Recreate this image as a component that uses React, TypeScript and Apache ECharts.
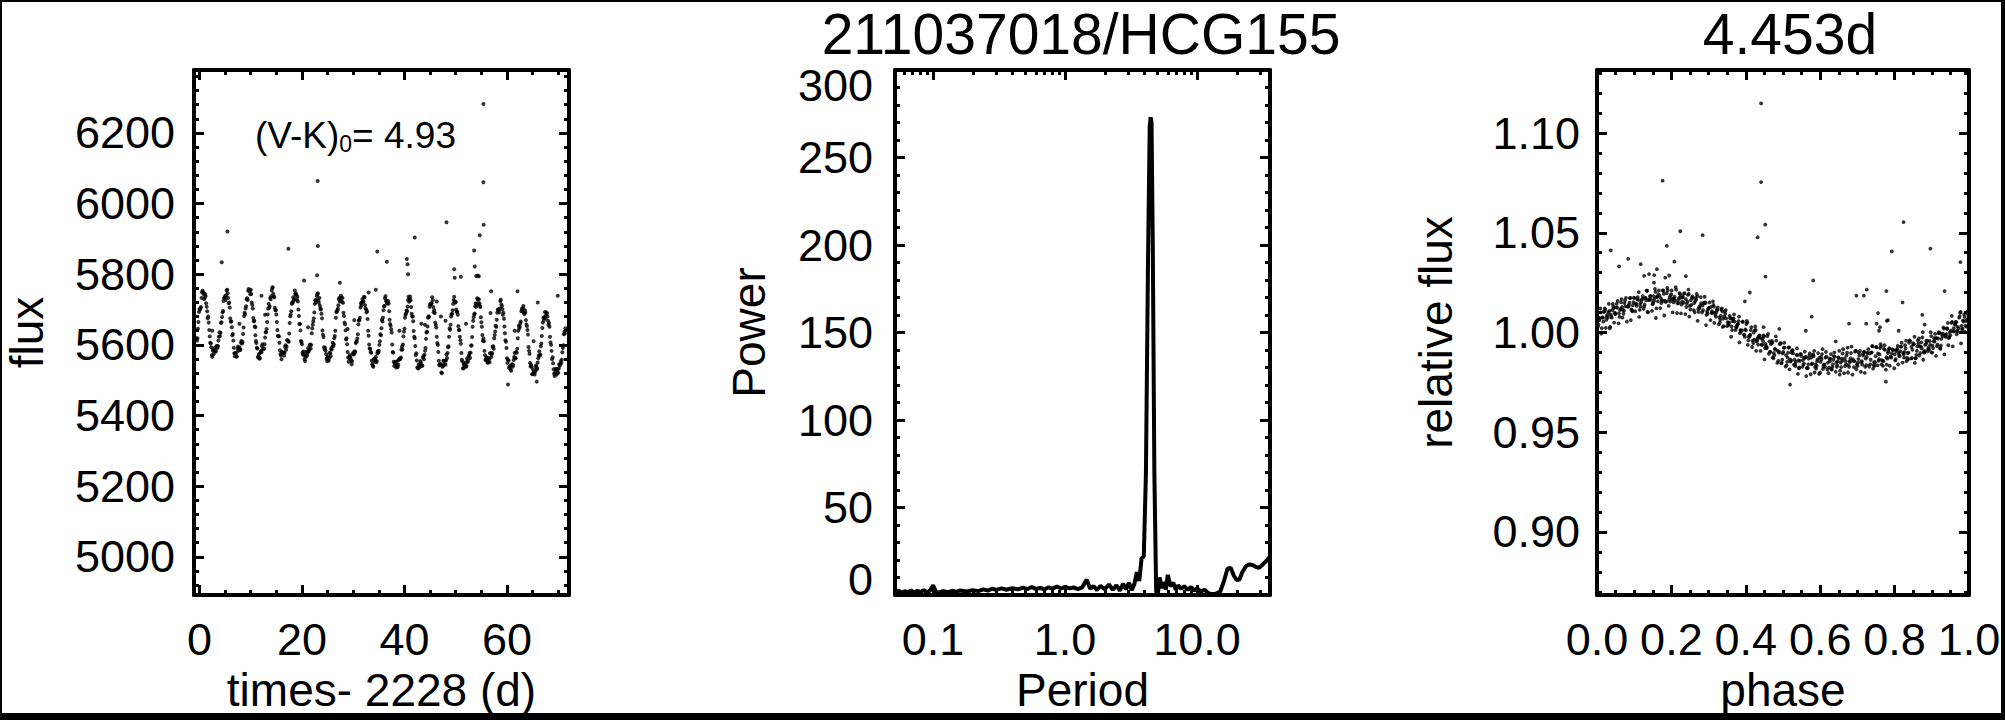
import React, { useEffect, useRef } from 'react';
import * as echarts from 'echarts';

// ---------- Panel 1: light curve (time - 2228 d, flux) ----------
const TIME = [
  -0.6, -0.4, -0.2,
  0, 0.2, 0.4, 0.6, 0.8, 1, 1.2, 1.4, 1.6, 1.8, 2, 2.2, 2.4, 2.6, 2.8, 3, 3.2, 3.4, 3.6, 3.8, 4, 4.2, 4.4,
  4.6, 4.8, 5, 5.2, 5.4, 5.6, 5.8, 6, 6.2, 6.4, 6.6, 6.8, 7, 7.2, 7.4, 7.6, 7.8, 8, 8.2, 8.4, 8.6, 8.8,
  9, 9.2, 9.4, 9.6, 9.8, 10, 10.2, 10.4, 10.6, 10.8, 11, 11.2, 11.4, 11.6, 11.8, 12, 12.2, 12.4, 12.6, 12.8, 13, 13.2,
  13.4, 13.6, 13.8, 14, 14.2, 14.4, 14.6, 14.8, 15, 15.2, 15.4, 15.6, 15.8, 16, 16.2, 16.4, 16.6, 16.8, 17, 17.2, 17.4, 17.6, 17.8,
  18, 18.2, 18.4, 18.6, 18.8, 19, 19.2, 19.4, 19.6, 19.8, 20, 20.2, 20.4, 20.6, 20.8, 21, 21.2, 21.4, 21.6, 21.8, 22, 22.2,
  22.4, 22.6, 22.8, 23, 23.2, 23.4, 23.6, 23.8, 24, 24.2, 24.4, 24.6, 24.8, 25, 25.2, 25.4, 25.6, 25.8, 26, 26.2, 26.4, 26.6,
  26.8, 27, 27.2, 27.4, 27.6, 27.8, 28, 28.2, 28.4, 28.6, 28.8, 29, 29.2, 29.4, 29.6, 29.8, 30, 30.2, 30.4, 30.6, 30.8, 31,
  31.2, 31.4, 31.6, 31.8, 32, 32.2, 32.4, 32.6, 32.8, 33, 33.2, 33.4, 33.6, 33.8, 34, 34.2, 34.4, 34.6, 34.8, 35, 35.2, 35.4, 35.6,
  35.8, 36, 36.2, 36.4, 36.6, 36.8, 37, 37.2, 37.4, 37.6, 37.8, 38, 38.2, 38.4, 38.6, 38.8, 39, 39.2, 39.4, 39.6, 39.8, 40,
  40.2, 40.4, 40.6, 40.8, 41, 41.2, 41.4, 41.6, 41.8, 42, 42.2, 42.4, 42.6, 42.8, 43, 43.2, 43.4, 43.6, 43.8, 44, 44.2, 44.4,
  44.6, 44.8, 45, 45.2, 45.4, 45.6, 45.8, 46, 46.2, 46.4, 46.6, 46.8, 47, 47.2, 47.4, 47.6, 47.8, 48, 48.2, 48.4, 48.6, 48.8,
  49, 49.2, 49.4, 49.6, 49.8, 50, 50.2, 50.4, 50.6, 50.8, 51, 51.2, 51.4, 51.6, 51.8, 52, 52.2, 52.4, 52.6, 52.8, 53, 53.2, 53.4,
  53.6, 53.8, 54, 54.2, 54.4, 54.6, 54.8, 55, 55.2, 55.4, 55.6, 55.8, 56, 56.2, 56.4, 56.6, 56.8, 57, 57.2, 57.4, 57.6, 57.8,
  58, 58.2, 58.4, 58.6, 58.8, 59, 59.2, 59.4, 59.6, 59.8, 60, 60.2, 60.4, 60.6, 60.8, 61, 61.2, 61.4, 61.6, 61.8, 62, 62.2,
  62.4, 62.6, 62.8, 63, 63.2, 63.4, 63.6, 63.8, 64, 64.2, 64.4, 64.6, 64.8, 65, 65.2, 65.4, 65.6, 65.8, 66, 66.2, 66.4, 66.6,
  66.8, 67, 67.2, 67.4, 67.6, 67.8, 68, 68.2, 68.4, 68.6, 68.8, 69, 69.2, 69.4, 69.6, 69.8, 70, 70.2, 70.4, 70.6, 70.8, 71, 71.2,
  71.4,
];

const FLUX = [
  5618, 5619, 5665,
  5701, 5704, 5733, 5753, 5744, 5733, 5738, 5708, 5675, 5663, 5624, 5604, 5571, 5583, 5574, 5592, 5581, 5596, 5597, 5623, 5625, 5662, 5679,
  5696, 5733, 5738, 5740, 5756, 5733, 5720, 5675, 5666, 5627, 5612, 5576, 5576, 5567, 5588, 5583, 5593, 5586, 5611, 5608, 5649, 5691,
  5703, 5729, 5727, 5758, 5754, 5756, 5720, 5703, 5667, 5652, 5611, 5592, 5565, 5574, 5563, 5583, 5597, 5588, 5590, 5621, 5636, 5665,
  5703, 5705, 5733, 5738, 5761, 5745, 5735, 5698, 5686, 5642, 5625, 5606, 5574, 5559, 5579, 5577, 5578, 5599, 5595, 5613, 5609, 5662, 5686,
  5716, 5719, 5726, 5754, 5746, 5728, 5723, 5682, 5659, 5611, 5602, 5572, 5573, 5554, 5570, 5570, 5591, 5586, 5601, 5600, 5647, 5666,
  5692, 5726, 5728, 5743, 5725, 5733, 5703, 5688, 5641, 5622, 5587, 5584, 5561, 5564, 5555, 5578, 5568, 5587, 5606, 5602, 5625, 5677,
  5693, 5702, 5729, 5723, 5739, 5722, 5719, 5682, 5658, 5615, 5602, 5564, 5563, 5566, 5554, 5554, 5578, 5577, 5580, 5607, 5618, 5658,
  5670, 5706, 5712, 5730, 5723, 5734, 5704, 5692, 5673, 5626, 5590, 5580, 5555, 5541, 5558, 5552, 5566, 5554, 5582, 5583, 5610, 5627, 5671,
  5677, 5709, 5732, 5725, 5718, 5724, 5695, 5659, 5644, 5601, 5578, 5540, 5548, 5536, 5554, 5544, 5560, 5560, 5586, 5587, 5624, 5646,
  5685, 5697, 5708, 5736, 5730, 5726, 5688, 5680, 5639, 5619, 5571, 5556, 5535, 5544, 5537, 5550, 5541, 5564, 5559, 5583, 5617, 5637,
  5677, 5679, 5715, 5717, 5735, 5707, 5698, 5663, 5649, 5605, 5580, 5542, 5544, 5522, 5538, 5555, 5545, 5544, 5573, 5577, 5596, 5647,
  5657, 5687, 5698, 5727, 5722, 5722, 5693, 5685, 5642, 5623, 5603, 5558, 5534, 5545, 5538, 5538, 5561, 5555, 5570, 5563, 5598, 5622, 5668,
  5686, 5709, 5708, 5732, 5717, 5718, 5707, 5664, 5628, 5618, 5583, 5558, 5564, 5550, 5562, 5551, 5576, 5573, 5594, 5589, 5628, 5654,
  5671, 5699, 5699, 5703, 5728, 5710, 5685, 5674, 5633, 5609, 5562, 5558, 5535, 5540, 5527, 5545, 5543, 5566, 5563, 5580, 5589, 5640,
  5647, 5661, 5695, 5696, 5710, 5687, 5692, 5658, 5642, 5594, 5575, 5539, 5538, 5518, 5524, 5516, 5539, 5530, 5550, 5570, 5569, 5596,
  5625, 5663, 5670, 5693, 5683, 5689, 5668, 5662, 5623, 5600, 5559, 5548, 5518, 5522, 5532, 5522, 5521, 5545, 5545, 5549, 5579, 5599, 5637,
  5647,
];

// second, interleaved set of cadences (half-way between the ones above)
const TIME2 = [
  -0.5, -0.3, -0.1, 0.1, 0.3, 0.5, 0.7, 0.9, 1.1, 1.3, 1.5, 1.7, 1.9, 2.1, 2.3, 2.5, 2.7, 2.9, 3.1, 3.3, 3.5, 3.7, 3.9, 4.1, 4.3, 4.5,
  4.7, 4.9, 5.1, 5.3, 5.5, 5.7, 5.9, 6.1, 6.3, 6.5, 6.7, 6.9, 7.1, 7.3, 7.5, 7.7, 7.9, 8.1, 8.3, 8.5, 8.7, 8.9,
  9.1, 9.3, 9.5, 9.7, 9.9, 10.1, 10.3, 10.5, 10.7, 10.9, 11.1, 11.3, 11.5, 11.7, 11.9, 12.1, 12.3, 12.5, 12.7, 12.9, 13.1, 13.3,
  13.5, 13.7, 13.9, 14.1, 14.3, 14.5, 14.7, 14.9, 15.1, 15.3, 15.5, 15.7, 15.9, 16.1, 16.3, 16.5, 16.7, 16.9, 17.1, 17.3, 17.5, 17.7, 17.9,
  18.1, 18.3, 18.5, 18.7, 18.9, 19.1, 19.3, 19.5, 19.7, 19.9, 20.1, 20.3, 20.5, 20.7, 20.9, 21.1, 21.3, 21.5, 21.7, 21.9, 22.1, 22.3,
  22.5, 22.7, 22.9, 23.1, 23.3, 23.5, 23.7, 23.9, 24.1, 24.3, 24.5, 24.7, 24.9, 25.1, 25.3, 25.5, 25.7, 25.9, 26.1, 26.3, 26.5, 26.7,
  26.9, 27.1, 27.3, 27.5, 27.7, 27.9, 28.1, 28.3, 28.5, 28.7, 28.9, 29.1, 29.3, 29.5, 29.7, 29.9, 30.1, 30.3, 30.5, 30.7, 30.9, 31.1,
  31.3, 31.5, 31.7, 31.9, 32.1, 32.3, 32.5, 32.7, 32.9, 33.1, 33.3, 33.5, 33.7, 33.9, 34.1, 34.3, 34.5, 34.7, 34.9, 35.1, 35.3, 35.5, 35.7,
  35.9, 36.1, 36.3, 36.5, 36.7, 36.9, 37.1, 37.3, 37.5, 37.7, 37.9, 38.1, 38.3, 38.5, 38.7, 38.9, 39.1, 39.3, 39.5, 39.7, 39.9, 40.1,
  40.3, 40.5, 40.7, 40.9, 41.1, 41.3, 41.5, 41.7, 41.9, 42.1, 42.3, 42.5, 42.7, 42.9, 43.1, 43.3, 43.5, 43.7, 43.9, 44.1, 44.3, 44.5,
  44.7, 44.9, 45.1, 45.3, 45.5, 45.7, 45.9, 46.1, 46.3, 46.5, 46.7, 46.9, 47.1, 47.3, 47.5, 47.7, 47.9, 48.1, 48.3, 48.5, 48.7, 48.9,
  49.1, 49.3, 49.5, 49.7, 49.9, 50.1, 50.3, 50.5, 50.7, 50.9, 51.1, 51.3, 51.5, 51.7, 51.9, 52.1, 52.3, 52.5, 52.7, 52.9, 53.1, 53.3, 53.5,
  53.7, 53.9, 54.1, 54.3, 54.5, 54.7, 54.9, 55.1, 55.3, 55.5, 55.7, 55.9, 56.1, 56.3, 56.5, 56.7, 56.9, 57.1, 57.3, 57.5, 57.7, 57.9,
  58.1, 58.3, 58.5, 58.7, 58.9, 59.1, 59.3, 59.5, 59.7, 59.9, 60.1, 60.3, 60.5, 60.7, 60.9, 61.1, 61.3, 61.5, 61.7, 61.9, 62.1, 62.3,
  62.5, 62.7, 62.9, 63.1, 63.3, 63.5, 63.7, 63.9, 64.1, 64.3, 64.5, 64.7, 64.9, 65.1, 65.3, 65.5, 65.7, 65.9, 66.1, 66.3, 66.5, 66.7,
  66.9, 67.1, 67.3, 67.5, 67.7, 67.9, 68.1, 68.3, 68.5, 68.7, 68.9, 69.1, 69.3, 69.5, 69.7, 69.9, 70.1, 70.3, 70.5, 70.7, 70.9, 71.1, 71.3,
];

const FLUX2 = [
  5612, 5646, 5693, 5700, 5707, 5749, 5750, 5730, 5744, 5718, 5695, 5680, 5642, 5606, 5593, 5566, 5588, 5583, 5583, 5596, 5591, 5612, 5636, 5634, 5664, 5692,
  5724, 5733, 5727, 5754, 5746, 5718, 5706, 5666, 5650, 5631, 5592, 5568, 5577, 5567, 5595, 5588, 5586, 5606, 5604, 5631, 5682, 5687,
  5709, 5732, 5753, 5753, 5743, 5744, 5713, 5676, 5668, 5627, 5605, 5590, 5568, 5561, 5578, 5579, 5602, 5589, 5602, 5636, 5645, 5686,
  5716, 5709, 5729, 5754, 5763, 5737, 5705, 5698, 5665, 5625, 5624, 5585, 5570, 5580, 5576, 5570, 5594, 5586, 5613, 5611, 5632, 5681, 5695,
  5720, 5735, 5730, 5743, 5741, 5736, 5700, 5659, 5641, 5608, 5578, 5581, 5559, 5565, 5581, 5579, 5581, 5599, 5590, 5633, 5657, 5675,
  5716, 5721, 5738, 5746, 5719, 5711, 5700, 5675, 5629, 5593, 5592, 5574, 5554, 5568, 5562, 5576, 5589, 5595, 5596, 5619, 5640, 5694,
  5698, 5712, 5733, 5725, 5733, 5733, 5691, 5663, 5641, 5619, 5580, 5552, 5571, 5561, 5545, 5574, 5573, 5582, 5605, 5611, 5630, 5669,
  5677, 5718, 5721, 5723, 5736, 5713, 5700, 5695, 5640, 5601, 5589, 5578, 5545, 5538, 5561, 5560, 5551, 5576, 5578, 5600, 5630, 5647, 5666,
  5698, 5710, 5738, 5722, 5717, 5717, 5671, 5654, 5635, 5580, 5552, 5548, 5552, 5542, 5537, 5558, 5561, 5564, 5595, 5601, 5638, 5677,
  5689, 5695, 5727, 5722, 5737, 5707, 5680, 5667, 5623, 5597, 5576, 5536, 5533, 5545, 5554, 5543, 5541, 5568, 5572, 5591, 5635, 5652,
  5681, 5708, 5714, 5718, 5726, 5692, 5690, 5656, 5623, 5600, 5555, 5545, 5545, 5520, 5540, 5554, 5555, 5556, 5563, 5593, 5623, 5643,
  5680, 5688, 5716, 5736, 5720, 5700, 5694, 5653, 5642, 5613, 5577, 5553, 5534, 5544, 5550, 5540, 5551, 5567, 5577, 5578, 5598, 5651, 5678,
  5689, 5717, 5715, 5728, 5729, 5711, 5678, 5651, 5612, 5610, 5571, 5557, 5564, 5550, 5559, 5576, 5565, 5577, 5596, 5619, 5638, 5651,
  5691, 5700, 5692, 5724, 5714, 5701, 5691, 5652, 5613, 5591, 5549, 5556, 5538, 5530, 5543, 5538, 5557, 5577, 5562, 5578, 5619, 5654,
  5651, 5666, 5702, 5704, 5690, 5698, 5670, 5653, 5629, 5583, 5549, 5544, 5517, 5530, 5520, 5524, 5542, 5534, 5562, 5582, 5573, 5604,
  5648, 5677, 5679, 5676, 5692, 5680, 5656, 5651, 5607, 5583, 5565, 5531, 5512, 5532, 5516, 5531, 5533, 5541, 5554, 5558, 5591, 5630, 5632,
];

// scattered outliers / flare points
const OUT_T = [55.4, 23.05, 55.4, 5.45, 17.35, 23.1, 48.2, 42.0, 34.7, 55.45, 54.7, 53.6, 4.35, 40.45, 40.6, 36.55, 49.7, 53.7,
  20.4, 54.0, 54.3, 54.5, 22.95, 27.4, 34.4, 12.1, 46.3, 48.0, 44.0, 60.2, 65.8, 69.9, 40.7, 49.8, 56.9, 62.05, 66.0, 51.0, 33.0,
  7.8, 12.8, 21.2, 30.2, 39.0, 43.3, 47.1, 52.0, 56.8, 61.5, 65.2, 2.5, 10.9, 28.9];
const OUT_F = [6282, 6064, 6060, 5921, 5872, 5880, 5947, 5904, 5864, 5940, 5910, 5867, 5834, 5843, 5828, 5835, 5814, 5822,
  5782, 5795, 5796, 5794, 5797, 5776, 5756, 5739, 5723, 5668, 5657, 5488, 5496, 5739, 5800, 5790, 5752, 5752, 5720, 5793, 5748,
  5660, 5685, 5650, 5670, 5640, 5660, 5680, 5660, 5690, 5640, 5610, 5640, 5650, 5645];

// ---------- Panel 2: periodogram ----------
const PERIOD = [0.052, 0.055, 0.058, 0.061, 0.064, 0.068, 0.072, 0.076, 0.08, 0.085, 0.09, 0.095, 0.1, 0.105, 0.11, 0.12, 0.13,
  0.14, 0.15, 0.16, 0.18, 0.2, 0.22, 0.24, 0.26, 0.28, 0.3, 0.33, 0.36, 0.4, 0.44, 0.48, 0.52, 0.56, 0.6, 0.65, 0.7, 0.75, 0.8,
  0.87, 0.94, 1.0, 1.08, 1.16, 1.25, 1.35, 1.46, 1.55, 1.65, 1.75, 1.85, 2.0, 2.15, 2.3, 2.45, 2.6, 2.75, 2.9, 3.05, 3.2, 3.35,
  3.5, 3.65, 3.8, 3.95, 4.1, 4.25, 4.38, 4.45, 4.52, 4.62, 4.75, 4.9, 5.05, 5.2, 5.4, 5.6, 5.8, 6.0, 6.3, 6.6, 6.9, 7.2, 7.6,
  8.0, 8.5, 9.0, 9.5, 10.0, 10.7, 11.4, 12.2, 13.0, 14.0, 15.0, 16.0, 17.0, 18.0, 19.0, 20.0, 21.0, 22.0, 23.5, 25.0, 26.5,
  28.0, 29.5, 31.0, 32.5, 34.0, 35.7];
const POWER = [1.5, 2.5, 1.2, 2.2, 1.4, 2.6, 1.3, 2.4, 1.6, 2.8, 1.5, 2.6, 5.5, 2.0, 1.4, 2.2, 1.6,
  2.4, 1.8, 2.6, 2.0, 2.8, 2.2, 3.2, 2.5, 3.6, 2.9, 3.8, 3.0, 3.9, 3.2, 4.2, 3.4, 4.6, 3.5, 4.0, 3.3, 4.4, 3.6,
  4.8, 3.7, 4.6, 3.8, 4.3, 3.4, 4.4, 8.8, 3.6, 5.0, 2.8, 5.2, 3.4, 6.0, 3.0, 5.6, 2.5, 6.4, 3.2, 7.0, 2.8, 6.2,
  13.0, 8.0, 21.0, 22.0, 70, 190, 268, 273, 270, 200, 70, 2, 0.5, 10, 4, 7.5, 3.0, 11.5, 5, 7, 3, 5.5, 3.5,
  5.0, 3.0, 4.5, 2.5, 3.8, 2.0, 3.0, 1.0, 0.5, 0.8, 2.0, 8.0, 15.0, 15.5, 11.0, 8.5, 9.0, 13.0, 16.5, 17.5, 17.0,
  16.0, 15.5, 17.0, 18.5, 20.0, 22.0];

// ---------- Panel 3: folding parameters ----------
const FOLD_PERIOD = 4.453;
const NORM_FLUX = 5635;

const TITLE_MAIN = '211037018/HCG155';
const TITLE_PERIOD = '4.453d';

const FONT = '"Liberation Sans", Arial, Helvetica, sans-serif';
const BLACK = '#000000';

export default function App() {
  const ref = useRef<HTMLDivElement>(null);

  useEffect(() => {
    if (!ref.current) return;
    const chart = echarts.init(ref.current, null, { renderer: 'svg' });

    const allT = TIME.concat(TIME2, OUT_T);
    const allF = FLUX.concat(FLUX2, OUT_F);
    const lcData = allT.map((t, i) => [t, allF[i]]);
    const pgData = PERIOD.map((p, i) => [p, POWER[i]]);
    const foldData = allT.map((t, i) => {
      const ph = ((t / FOLD_PERIOD) % 1 + 1) % 1;
      return [ph, allF[i] / NORM_FLUX];
    });

    const axLine = { show: true, onZero: false, lineStyle: { color: BLACK, width: 4 } };
    const tick = { show: true, inside: true, length: 10, lineStyle: { color: BLACK, width: 3 } };
    const minor = (n: number) => ({ show: true, splitNumber: n, length: 5, lineStyle: { color: BLACK, width: 3 } });
    const nameStyle = { color: BLACK, fontFamily: FONT, fontSize: 46 };
    const yNameStyle = { color: BLACK, fontFamily: FONT, fontSize: 46, lineHeight: 36 };
    const lab = (extra: any) => ({ show: true, color: BLACK, fontFamily: FONT, fontSize: 45, ...extra });
    const noSplit = { show: false };

    const mirror = (base: any, position: string) => ({
      ...base,
      position,
      name: '',
      axisLabel: { show: false },
    });

    const x0 = {
      gridIndex: 0, type: 'value', min: -1.07, max: 72.1, splitNumber: 4,
      axisLine: axLine, axisTick: tick, minorTick: minor(4), splitLine: noSplit, minorSplitLine: noSplit,
      axisLabel: lab({ margin: 22, showMinLabel: false, showMaxLabel: false, formatter: (v: number) => String(Math.round(v)) }),
      name: 'times- 2228 (d)', nameLocation: 'middle', nameGap: 70, nameTextStyle: nameStyle,
      position: 'bottom',
    };
    const x2 = {
      gridIndex: 1, type: 'log', logBase: 10, min: 0.0515, max: 35.7,
      axisLine: axLine, axisTick: tick, minorTick: minor(9), splitLine: noSplit, minorSplitLine: noSplit,
      axisLabel: lab({ margin: 22, showMinLabel: false, showMaxLabel: false, formatter: (v: number) => Number(v).toFixed(1) }),
      name: 'Period', nameLocation: 'middle', nameGap: 70, nameTextStyle: nameStyle,
      position: 'bottom',
    };
    const x4 = {
      gridIndex: 2, type: 'value', min: 0, max: 1, splitNumber: 5,
      axisLine: axLine, axisTick: tick, minorTick: minor(4), splitLine: noSplit, minorSplitLine: noSplit,
      axisLabel: lab({ margin: 22, formatter: (v: number) => Number(v).toFixed(1) }),
      name: 'phase', nameLocation: 'middle', nameGap: 70, nameTextStyle: nameStyle,
      position: 'bottom',
    };

    const y0 = {
      gridIndex: 0, type: 'value', min: 4892, max: 6378, splitNumber: 7,
      axisLine: axLine, axisTick: tick, minorTick: minor(5), splitLine: noSplit, minorSplitLine: noSplit,
      axisLabel: lab({ margin: 19, showMinLabel: false, showMaxLabel: false, formatter: (v: number) => String(Math.round(v)) }),
      name: 'flux', nameLocation: 'middle', nameGap: 149, nameTextStyle: yNameStyle,
      position: 'left',
    };
    const y2 = {
      gridIndex: 1, type: 'value', min: 0, max: 300, splitNumber: 6,
      axisLine: axLine, axisTick: tick, minorTick: minor(5), splitLine: noSplit, minorSplitLine: noSplit,
      axisLabel: lab({
        margin: 22, lineHeight: 31, verticalAlignMinLabel: 'bottom', verticalAlignMaxLabel: 'top',
        formatter: (v: number) => String(Math.round(v)),
      }),
      name: 'Power', nameLocation: 'middle', nameGap: 128, nameTextStyle: yNameStyle,
      position: 'left',
    };
    const y4 = {
      gridIndex: 2, type: 'value', min: 0.8684, max: 1.1316, splitNumber: 5,
      axisLine: axLine, axisTick: tick, minorTick: minor(5), splitLine: noSplit, minorSplitLine: noSplit,
      axisLabel: lab({ margin: 17, showMinLabel: false, showMaxLabel: false, formatter: (v: number) => Number(v).toFixed(2) }),
      name: 'relative flux', nameLocation: 'middle', nameGap: 143, nameTextStyle: yNameStyle,
      position: 'left',
    };

    const option: any = {
      animation: false,
      backgroundColor: '#ffffff',
      textStyle: { fontFamily: FONT, color: BLACK },
      grid: [
        { left: 194, top: 70, width: 375, height: 525, containLabel: false, outerBoundsMode: 'none', show: false },
        { left: 895, top: 70, width: 375, height: 525, containLabel: false, outerBoundsMode: 'none', show: false },
        { left: 1597, top: 70, width: 372, height: 525, containLabel: false, outerBoundsMode: 'none', show: false },
      ],
      xAxis: [x0, mirror(x0, 'top'), x2, mirror(x2, 'top'), x4, mirror(x4, 'top')],
      yAxis: [y0, mirror(y0, 'right'), y2, mirror(y2, 'right'), y4, mirror(y4, 'right')],
      series: [
        {
          type: 'scatter', xAxisIndex: 0, yAxisIndex: 0, data: lcData,
          symbol: 'circle', symbolSize: 4, itemStyle: { color: BLACK }, silent: true,
        },
        {
          type: 'line', xAxisIndex: 2, yAxisIndex: 2, data: pgData,
          showSymbol: false, symbol: 'none', lineStyle: { color: BLACK, width: 4 }, silent: true,
        },
        {
          type: 'scatter', xAxisIndex: 4, yAxisIndex: 4, data: foldData,
          symbol: 'circle', symbolSize: 3.8, itemStyle: { color: BLACK }, silent: true,
        },
      ],
      graphic: [
        // outer frame of the figure
        { type: 'rect', silent: true, shape: { x: 0, y: 0, width: 2005, height: 2 }, style: { fill: BLACK } },
        { type: 'rect', silent: true, shape: { x: 0, y: 0, width: 2, height: 720 }, style: { fill: BLACK } },
        { type: 'rect', silent: true, shape: { x: 2001, y: 0, width: 4, height: 720 }, style: { fill: BLACK } },
        { type: 'rect', silent: true, shape: { x: 0, y: 713, width: 2005, height: 7 }, style: { fill: BLACK } },
        {
          type: 'text', silent: true, x: 1081, y: 34,
          style: {
            text: TITLE_MAIN, fontSize: 57, fontFamily: FONT, fill: BLACK,
            align: 'center', verticalAlign: 'middle',
          },
        },
        {
          type: 'text', silent: true, x: 1790, y: 34,
          style: {
            text: TITLE_PERIOD, fontSize: 57, fontFamily: FONT, fill: BLACK,
            align: 'center', verticalAlign: 'middle',
          },
        },
        {
          type: 'text', silent: true, x: 255, y: 135,
          style: {
            text: '{m|(V-K)}{s|0}{m|= 4.93}',
            fill: BLACK, align: 'left', verticalAlign: 'middle',
            rich: {
              m: { fontSize: 37, fontFamily: FONT, fill: BLACK, color: BLACK, lineHeight: 40, verticalAlign: 'middle' },
              s: { fontSize: 23, fontFamily: FONT, fill: BLACK, color: BLACK, lineHeight: 18, verticalAlign: 'bottom' },
            },
          },
        },
      ],
    };

    chart.setOption(option);
    return () => chart.dispose();
  }, []);

  return (
    <div
      ref={ref}
      style={{ position: 'absolute', left: 0, top: 0, width: 2005, height: 720, background: '#ffffff' }}
    />
  );
}
